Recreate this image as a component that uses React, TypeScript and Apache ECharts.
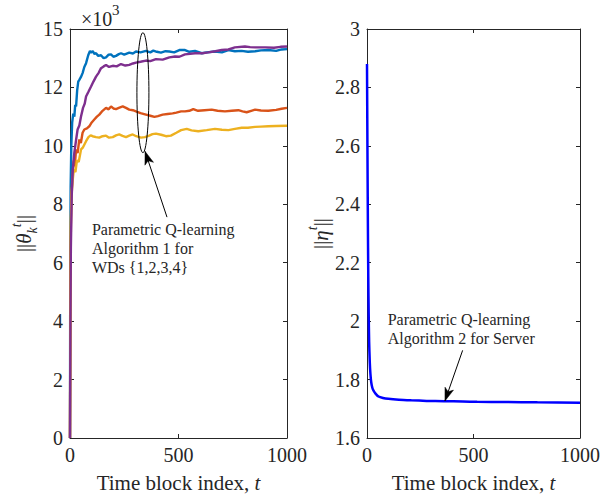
import React, { useEffect, useRef } from 'react';
import * as echarts from 'echarts';

// ---------- data ----------
const xTickLabels = ['0', '500', '1000'];
const leftYTickLabels = ['0', '2', '4', '6', '8', '10', '12', '15'];

const wd1Blue: number[][] = [
  [0, 0], [1, 5.5], [3, 8.6], [6, 10.0], [10, 10.8], [15, 11.1], [20, 11.0], [24, 11.4], [28, 11.35], [33, 11.9],
  [38, 12.2], [43, 12.26], [50, 12.35], [58, 12.49], [66, 12.7], [74, 12.83], [84, 13.1], [92, 13.25], [97, 13.19],
  [105, 13.24], [112, 13.15], [120, 13.17], [130, 13.08], [143, 13.1], [155, 13.0], [166, 13.03], [178, 13.12],
  [189, 13.13], [200, 13.05], [212, 13.08], [225, 13.14], [235, 13.17], [250, 13.12], [273, 13.19], [290, 13.16],
  [304, 13.23], [325, 13.2], [350, 13.25], [370, 13.2], [384, 13.26], [400, 13.22], [419, 13.19], [440, 13.24],
  [458, 13.23], [480, 13.2], [504, 13.28], [530, 13.28], [550, 13.22], [576, 13.25], [607, 13.17], [630, 13.2],
  [668, 13.23], [700, 13.2], [730, 13.28], [760, 13.24], [791, 13.25], [820, 13.22], [853, 13.24], [880, 13.27],
  [914, 13.28], [950, 13.25], [975, 13.3], [1000, 13.31],
];

const wd2Orange: number[][] = [
  [0, 0], [2, 5], [4, 7.2], [7, 8.4], [12, 9.0], [17, 9.5], [22, 9.3], [28, 9.88], [35, 9.75], [43, 10.22],
  [50, 10.1], [58, 10.45], [66, 10.56], [78, 10.6], [89, 10.67], [100, 10.8], [112, 10.9], [124, 11.0], [135, 11.07],
  [150, 11.2], [166, 11.3], [178, 11.25], [189, 11.35], [200, 11.28], [212, 11.26], [225, 11.3], [243, 11.35],
  [258, 11.3], [273, 11.24], [290, 11.22], [304, 11.18], [325, 11.12], [350, 11.07], [370, 11.03], [389, 10.99],
  [405, 11.02], [427, 11.07], [450, 11.09], [473, 11.11], [490, 11.14], [512, 11.18], [530, 11.18], [550, 11.2],
  [568, 11.26], [590, 11.2], [620, 11.22], [653, 11.24], [680, 11.2], [714, 11.18], [745, 11.2], [776, 11.22],
  [795, 11.18], [814, 11.15], [835, 11.2], [853, 11.24], [880, 11.21], [914, 11.2], [950, 11.23], [975, 11.27],
  [1000, 11.3],
];

const wd3Yellow: number[][] = [
  [0, 0], [2, 5.5], [4, 7.5], [7, 8.3], [12, 8.8], [18, 9.2], [25, 9.1], [32, 9.5], [40, 9.45], [51, 9.88],
  [60, 9.95], [74, 10.16], [85, 10.3], [95, 10.36], [104, 10.33], [120, 10.3], [135, 10.28], [150, 10.33],
  [166, 10.35], [180, 10.28], [197, 10.3], [212, 10.36], [227, 10.39], [242, 10.34], [258, 10.3], [273, 10.35],
  [289, 10.39], [305, 10.33], [327, 10.28], [345, 10.3], [365, 10.35], [380, 10.4], [396, 10.42], [420, 10.38],
  [442, 10.33], [465, 10.35], [490, 10.45], [512, 10.54], [538, 10.58], [560, 10.53], [591, 10.5], [630, 10.54],
  [668, 10.58], [700, 10.55], [730, 10.54], [760, 10.58], [791, 10.62], [820, 10.62], [853, 10.65], [880, 10.66],
  [914, 10.67], [950, 10.68], [1000, 10.69],
];

const wd4Purple: number[][] = [
  [0, 0], [2, 4], [4, 6.5], [8, 8.3], [13, 9.2], [20, 9.77], [28, 10.2], [35, 10.56], [43, 10.7], [51, 11.01],
  [60, 11.3], [68, 11.45], [74, 11.69], [85, 11.85], [97, 12.03], [108, 12.2], [120, 12.37], [132, 12.5],
  [143, 12.66], [155, 12.72], [166, 12.77], [180, 12.7], [197, 12.74], [215, 12.72], [235, 12.8], [255, 12.75],
  [273, 12.77], [290, 12.82], [304, 12.85], [325, 12.88], [350, 12.92], [370, 12.9], [396, 12.97], [427, 12.95],
  [458, 13.03], [484, 13.06], [504, 13.05], [530, 13.13], [576, 13.17], [610, 13.17], [637, 13.2], [670, 13.24],
  [699, 13.28], [730, 13.3], [760, 13.37], [806, 13.4], [830, 13.38], [853, 13.37], [900, 13.37], [940, 13.36],
  [970, 13.39], [1000, 13.4],
];

const serverEta: number[][] = [
  [0, 2.88], [2, 2.6], [4, 2.35], [6, 2.15], [8, 2.02], [10, 1.93], [13, 1.86], [16, 1.82], [20, 1.79],
  [25, 1.772], [30, 1.763], [40, 1.752], [54, 1.742], [75, 1.737], [100, 1.734], [150, 1.731], [208, 1.729],
  [280, 1.727], [361, 1.726], [450, 1.725], [517, 1.724], [650, 1.723], [800, 1.722], [1000, 1.721],
];

const wdColors = ['#0072BD', '#D95319', '#EDB120', '#7E2F8E'];
const serverColor = '#0000FF';

// ---------- styling ----------
const FONT = "'Liberation Serif', 'Times New Roman', Times, serif";
const AX = '#262626';
const TICK_FS = 20;
const NAME_FS = 21;

function boxAxis(extra: any) {
  return {
    axisLine: { show: true, onZero: false, lineStyle: { color: AX, width: 1 } },
    axisTick: { show: true, inside: true, length: 4, lineStyle: { color: AX, width: 1 } },
    splitLine: { show: false },
    ...extra,
  };
}

const nameRich = {
  i: { fontStyle: 'italic', fontFamily: FONT, fontSize: NAME_FS, color: AX },
  sub: { fontStyle: 'italic', fontFamily: FONT, fontSize: 14, color: AX, verticalAlign: 'bottom', lineHeight: 30 },
  sup: { fontStyle: 'italic', fontFamily: FONT, fontSize: 14, color: AX, verticalAlign: 'top', lineHeight: 30 },
};

function arrowHead(tail: number[], tip: number[], len = 13, half = 4.5) {
  const dx = tip[0] - tail[0];
  const dy = tip[1] - tail[1];
  const d = Math.hypot(dx, dy);
  const ux = dx / d;
  const uy = dy / d;
  const nx = -uy;
  const ny = ux;
  const bx = tip[0] - ux * len;
  const by = tip[1] - uy * len;
  const ix = tip[0] - ux * len * 0.75;
  const iy = tip[1] - uy * len * 0.75;
  return [
    [tip[0], tip[1]],
    [bx + nx * half, by + ny * half],
    [ix, iy],
    [bx - nx * half, by - ny * half],
  ];
}

export default function App() {
  const ref = useRef<HTMLDivElement>(null);

  useEffect(() => {
    if (!ref.current) return;
    const chart = echarts.init(ref.current, undefined, { renderer: 'svg' });

    const xBottom = (gridIndex: number) =>
      boxAxis({
        type: 'value',
        gridIndex,
        position: 'bottom',
        min: 0,
        max: 1000,
        interval: 500,
        name: 'Time block index, {i|t}',
        nameLocation: 'middle',
        nameGap: 34,
        nameTextStyle: { fontFamily: FONT, fontSize: NAME_FS, color: AX, rich: nameRich },
        axisLabel: {
          show: true,
          margin: 7,
          fontFamily: FONT,
          fontSize: TICK_FS,
          color: AX,
          formatter: (_v: number, i: number) => xTickLabels[i],
        },
      });
    const xTop = (gridIndex: number) =>
      boxAxis({
        type: 'value',
        gridIndex,
        position: 'top',
        min: 0,
        max: 1000,
        interval: 500,
        axisLabel: { show: false },
      });

    const titleStyle = (fs: number) => ({ fontFamily: FONT, fontSize: fs, fontWeight: 'normal', color: AX });

    const option: any = {
      animation: false,
      backgroundColor: '#ffffff',
      title: [
        { text: '×10', left: 81, top: 9, padding: 0, textStyle: titleStyle(20) },
        { text: '3', left: 112, top: 2, padding: 0, textStyle: titleStyle(15) },
      ],
      grid: [
        { left: 70, top: 29, width: 217, height: 411, containLabel: false },
        { left: 367, top: 29, width: 216, height: 411, containLabel: false },
      ],
      xAxis: [xBottom(0), xTop(0), xBottom(1), xTop(1)],
      yAxis: [
        boxAxis({
          type: 'value',
          gridIndex: 0,
          position: 'left',
          min: 0,
          max: 14,
          interval: 2,
          name: '||{i|θ}{sub|k}{sup|t}||',
          nameLocation: 'middle',
          nameGap: 28,
          nameRotate: 90,
          nameTextStyle: { fontFamily: FONT, fontSize: NAME_FS, color: AX, rich: nameRich },
          axisLabel: {
            margin: 7,
            fontFamily: FONT,
            fontSize: TICK_FS,
            color: AX,
            formatter: (_v: number, i: number) => leftYTickLabels[i],
          },
        }),
        boxAxis({
          type: 'value',
          gridIndex: 0,
          position: 'right',
          min: 0,
          max: 14,
          interval: 2,
          axisLabel: { show: false },
        }),
        boxAxis({
          type: 'value',
          gridIndex: 1,
          position: 'left',
          min: 1.6,
          max: 3,
          interval: 0.2,
          name: '||{i|η}{sup|t}||',
          nameLocation: 'middle',
          nameGap: 30,
          nameRotate: 90,
          nameTextStyle: { fontFamily: FONT, fontSize: NAME_FS, color: AX, rich: nameRich },
          axisLabel: {
            margin: 7,
            fontFamily: FONT,
            fontSize: TICK_FS,
            color: AX,
            formatter: (v: number) => String(Math.round(v * 10) / 10),
          },
        }),
        boxAxis({
          type: 'value',
          gridIndex: 1,
          position: 'right',
          min: 1.6,
          max: 3,
          interval: 0.2,
          axisLabel: { show: false },
        }),
      ],
      series: [
        ...[wd1Blue, wd2Orange, wd3Yellow, wd4Purple].map((d, k) => ({
          type: 'line',
          xAxisIndex: 0,
          yAxisIndex: 0,
          data: d,
          showSymbol: false,
          symbol: 'none',
          lineStyle: { color: wdColors[k], width: 2.4 },
        })),
        {
          type: 'line',
          xAxisIndex: 2,
          yAxisIndex: 2,
          data: serverEta,
          showSymbol: false,
          symbol: 'none',
          smooth: 0.2,
          lineStyle: { color: serverColor, width: 2.5 },
        },
      ],
    };
    chart.setOption(option);

    const L = (p: number[]) => chart.convertToPixel({ seriesIndex: 0 }, p) as number[];
    const R = (p: number[]) => chart.convertToPixel({ seriesIndex: 4 }, p) as number[];

    const ellC = L([336, 11.82]);
    const lTip = L([346, 9.81]);
    const lTail = L([447, 7.56]);
    const lText = L([101, 7.45]);
    const rTip = R([366, 1.727]);
    const rTail = R([449, 1.9]);
    const rText = R([97, 2.037]);

    const annStyle = { fill: AX, fontSize: 16, fontFamily: FONT, lineHeight: 19, verticalAlign: 'top' };

    chart.setOption({
      graphic: [
        {
          type: 'ellipse',
          shape: { cx: ellC[0], cy: ellC[1], rx: 6, ry: 60 },
          style: { fill: 'none', stroke: '#000', lineWidth: 1 },
          z: 10,
        },
        {
          type: 'line',
          shape: { x1: lTail[0], y1: lTail[1], x2: lTip[0], y2: lTip[1] },
          style: { stroke: '#000', lineWidth: 1 },
          z: 10,
        },
        {
          type: 'polygon',
          shape: { points: arrowHead(lTail, lTip) },
          style: { fill: '#000', stroke: '#000', lineWidth: 0.5 },
          z: 10,
        },
        {
          type: 'text',
          x: lText[0],
          y: lText[1],
          style: { ...annStyle, text: 'Parametric Q-learning\nAlgorithm 1 for\nWDs {1,2,3,4}' },
          z: 10,
        },
        {
          type: 'line',
          shape: { x1: rTail[0], y1: rTail[1], x2: rTip[0], y2: rTip[1] },
          style: { stroke: '#000', lineWidth: 1 },
          z: 10,
        },
        {
          type: 'polygon',
          shape: { points: arrowHead(rTail, rTip) },
          style: { fill: '#000', stroke: '#000', lineWidth: 0.5 },
          z: 10,
        },
        {
          type: 'text',
          x: rText[0],
          y: rText[1],
          style: { ...annStyle, text: 'Parametric Q-learning\nAlgorithm 2 for Server' },
          z: 10,
        },
      ],
    });

    return () => chart.dispose();
  }, []);

  return (
    <div
      ref={ref}
      style={{ position: 'fixed', left: 0, top: 0, width: 603, height: 498, background: '#fff' }}
    />
  );
}
